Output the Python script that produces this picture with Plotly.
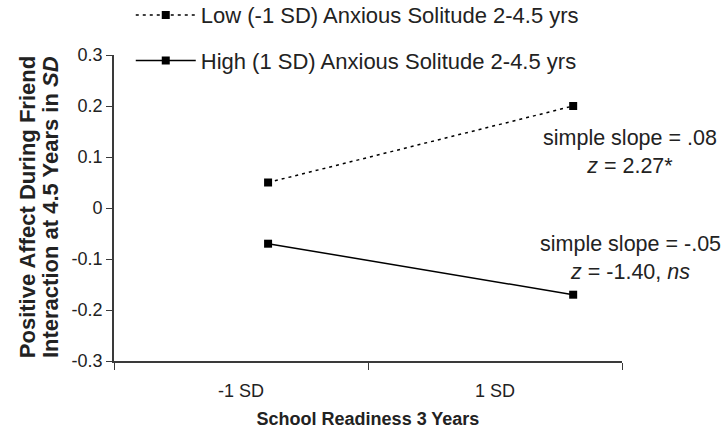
import plotly.graph_objects as go

# Data
categories = ["-1 SD", "1 SD"]
low_values = [0.05, 0.20]
high_values = [-0.07, -0.17]
series_names = ["Low (-1 SD) Anxious Solitude 2-4.5 yrs",
                "High (1 SD) Anxious Solitude 2-4.5 yrs"]
y_tick_vals = [0.3, 0.2, 0.1, 0, -0.1, -0.2, -0.3]
y_tick_text = ["0.3", "0.2", "0.1", "0", "-0.1", "-0.2", "-0.3"]
x_label_vals = [0.25, 0.75]
x_boundary_vals = [0, 0.5, 1]

FONT = "Liberation Sans, Arial, sans-serif"
INK = "#222222"
AXIS = "#3a3a3a"

fig = go.Figure()

# empty trace to anchor the labelled x axis
fig.add_trace(go.Scatter(x=[], y=[], xaxis="x", yaxis="y",
                         showlegend=False, hoverinfo="skip"))

fig.add_trace(go.Scatter(
    x=categories, y=low_values, name=series_names[0],
    xaxis="x2", yaxis="y", mode="lines+markers",
    line=dict(color="black", width=1.5, dash="3px,4px"),
    marker=dict(symbol="square", size=8, color="black"),
    legendgroup="a",
))
fig.add_trace(go.Scatter(
    x=categories, y=high_values, name=series_names[1],
    xaxis="x2", yaxis="y", mode="lines+markers",
    line=dict(color="black", width=1.5),
    marker=dict(symbol="square", size=8, color="black"),
    legendgroup="b",
))

fig.update_layout(
    width=727, height=433,
    margin=dict(l=114, r=105, t=55, b=72, autoexpand=False),
    paper_bgcolor="white", plot_bgcolor="white",
    font=dict(family=FONT, color=INK, size=18),
    showlegend=True,
    legend=dict(x=0.033, y=1.199, xanchor="left", yanchor="top",
                font=dict(size=22, color=INK), bgcolor="rgba(0,0,0,0)",
                tracegroupgap=14, itemwidth=60),
    xaxis=dict(
        range=[0, 1], showgrid=False, zeroline=False,
        showline=True, linecolor=AXIS, linewidth=1.8,
        tickvals=x_label_vals, ticktext=categories,
        ticks="outside", ticklen=12, tickcolor="rgba(0,0,0,0)",
        tickfont=dict(size=18, color=INK),
        minor=dict(tickvals=x_boundary_vals, ticks="outside", ticklen=7,
                   tickcolor=AXIS, tickwidth=1.2),
        title=dict(text="<b>School Readiness 3 Years</b>",
                   font=dict(size=18, color=INK), standoff=13),
    ),
    xaxis2=dict(
        type="category", overlaying="x", range=[-0.505, 1.16],
        visible=False, showgrid=False, zeroline=False,
    ),
    yaxis=dict(
        range=[-0.3, 0.3], showgrid=False, zeroline=False,
        showline=True, linecolor=AXIS, linewidth=1.8,
        tickvals=y_tick_vals, ticktext=y_tick_text,
        ticks="outside", ticklen=6, tickcolor=AXIS, tickwidth=1.2,
        tickfont=dict(size=18, color=INK),
    ),
)

# y-axis title as two rotated lines
fig.add_annotation(text="<b>Positive Affect During Friend</b>",
                   xref="paper", yref="paper", x=-0.171, y=0.503,
                   textangle=-90, showarrow=False, xanchor="center", yanchor="middle",
                   font=dict(size=22, color=INK))
fig.add_annotation(text="<b>Interaction at 4.5 Years in <i>SD</i></b>",
                   xref="paper", yref="paper", x=-0.126, y=0.503,
                   textangle=-90, showarrow=False, xanchor="center", yanchor="middle",
                   font=dict(size=22, color=INK))

# simple slope annotations
fig.add_annotation(text="simple slope = .08<br><i>z</i> = 2.27*",
                   xref="paper", yref="paper", x=1.016, y=0.683,
                   showarrow=False, xanchor="center", yanchor="middle",
                   align="center", font=dict(size=21.5, color=INK))
fig.add_annotation(text="simple slope = -.05<br><i>z</i> = -1.40, <i>ns</i>",
                   xref="paper", yref="paper", x=1.016, y=0.335,
                   showarrow=False, xanchor="center", yanchor="middle",
                   align="center", font=dict(size=21.5, color=INK))

fig.write_html(
    "out.html",
    config={"displayModeBar": False},
    post_script="document.body.style.margin='0';document.body.style.overflow='hidden';",
)
